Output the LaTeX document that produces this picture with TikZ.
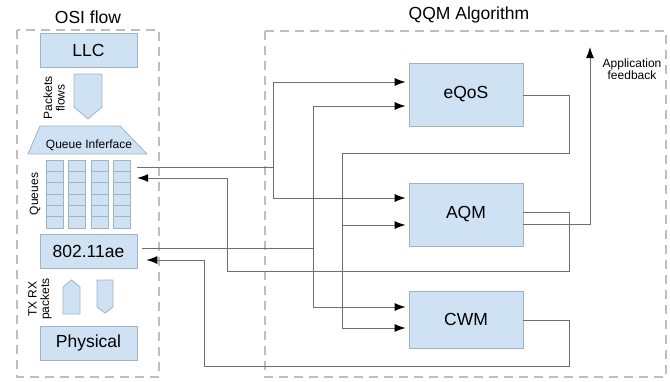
\documentclass[tikz,border=0pt]{standalone}
\usepackage{fontspec}
\setmainfont{Liberation Sans}
\usetikzlibrary{arrows.meta}
\definecolor{boxfill}{RGB}{207,226,243}
\definecolor{boxline}{RGB}{160,178,196}
\definecolor{dashc}{RGB}{190,190,190}
\definecolor{linec}{RGB}{110,110,110}
\tikzset{
 blk/.style={draw=boxline, fill=boxfill, line width=0.8pt, minimum width=97pt, minimum height=34pt, inner sep=0pt, font=\fontsize{17.5}{20}\selectfont},
 qbox/.style={blk, minimum width=114pt, minimum height=63pt},
 cell/.style={draw=boxline, fill=boxfill, line width=0.6pt},
 shp/.style={draw=boxline, fill=boxfill, line width=0.8pt},
 frame/.style={draw=dashc, line width=1.1pt, dash pattern=on 9pt off 6pt},
 conn/.style={draw=linec, line width=0.9pt},
 arr/.style={conn, -{Latex[length=11pt,width=8pt,black]}},
 inarr/.style={arr, shorten >=3pt},
 title/.style={font=\fontsize{17.5}{20}\selectfont},
 small/.style={font=\fontsize{12}{12.5}\selectfont, inner sep=0pt},
}
\begin{document}
\begin{tikzpicture}[x=1pt,y=-1pt]
\useasboundingbox (0,0) rectangle (670,381);
% titles
\node[title] (osititle) at (88,17) {OSI flow};
\node[title] (qqmtitle) at (469,15) {QQM Algorithm};
% frames
\draw[frame] (17,30) rectangle (159,377);
\draw[frame] (265,31) rectangle (666,377);
% OSI blocks
\node[blk] (llc) at (88.5,50) {LLC};
\node[blk] (mac) at (88.5,251) {802.11ae};
\node[blk] (phy) at (88.5,343) {Physical};
% packet flow arrow
\draw[shp] (74,74) -- (102,74) -- (102,107) -- (88,119) -- (74,107) -- cycle;
\node[small, rotate=90, align=center] (pflows) at (54,98) {Packets\\flows};
% queue interface
\draw[shp] (40,126) -- (120,126) -- (147,154) -- (28,154) -- cycle;
\node[small] (qif) at (89,145) {Queue Inferface};
% queues
\foreach \x in {46,68,91,113} {
  \foreach \r in {0,...,5} {
    \draw[cell] (\x,{160+11.33*\r}) rectangle ++(17,11.33);
  }
}
\node[minimum width=91pt, minimum height=68pt, inner sep=0pt] (queues) at (91.5,194) {};
\node[small, rotate=90] (qlabel) at (35,194) {Queues};
% TX RX arrows
\draw[shp] (63,314) -- (63,287) -- (71.5,280) -- (80,287) -- (80,314) -- cycle;
\draw[shp] (97,280) -- (113,280) -- (113,307) -- (105,313) -- (97,307) -- cycle;
\node[small, rotate=90, align=center] (txrx) at (40,299) {TX RX\\packets};
% QQM blocks
\node[qbox] (eqos) at (466,94.5) {eQoS};
\node[qbox] (aqm) at (466,214.5) {AQM};
\node[qbox, minimum height=57pt] (cwm) at (466,319.5) {CWM};
% application feedback
\coordinate (fb) at (590,47);
\node[small, align=center] (fbtext) at (632,69) {Application\\feedback};
% queues -> eQoS, AQM
\draw[conn] (queues.east |- 0,167) -- (273,167);
\draw[inarr] (273,167) |- (eqos.west |- 0,82);
\draw[inarr] (273,167) |- (aqm.west |- 0,198);
% 802.11ae -> eQoS, CWM
\draw[conn, shorten <=5pt] (mac.east |- 0,248) -- (313,248);
\draw[inarr] (313,248) |- (eqos.west |- 0,106);
\draw[inarr] (313,248) |- (cwm.west |- 0,307);
% eQoS -> AQM, CWM
\draw[conn] (eqos.east |- 0,95) -| (569,153) -- (342,153);
\draw[inarr] (342,153) |- (aqm.west |- 0,225);
\draw[inarr] (342,153) |- (cwm.west |- 0,328);
% AQM -> queues
\draw[arr] (aqm.east |- 0,212) -| (569,271) -| (227,178) -- (queues.east |- 0,178);
% AQM -> application feedback
\draw[arr] (aqm.east |- 0,224) -| (fb);
% CWM -> 802.11ae
\draw[arr, shorten >=9pt] (cwm.east |- 0,320) -| (569,366) -| (204,260) -- (mac.east |- 0,260);
\end{tikzpicture}
\end{document}
